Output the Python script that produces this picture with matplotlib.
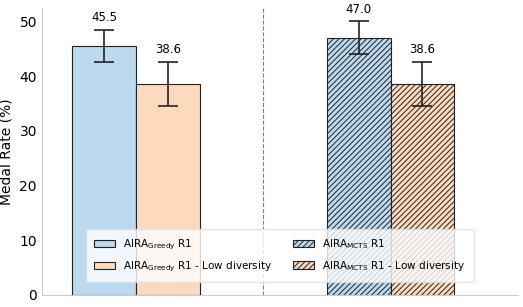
import matplotlib.pyplot as plt

# values
groups = ['Greedy', 'MCTS']
base = [45.5, 47.0]
base_err = [3.0, 3.0]
lowdiv = [38.6, 38.6]
lowdiv_err = [4.05, 4.05]
labels_base = [r'AIRA$_{\mathrm{Greedy}}$ R1', r'AIRA$_{\mathrm{MCTS}}$ R1']
labels_low = [r'AIRA$_{\mathrm{Greedy}}$ R1 - Low diversity', r'AIRA$_{\mathrm{MCTS}}$ R1 - Low diversity']

blue = '#BBD9EF'
orange = '#FDDABD'
w = 0.25

plt.rcParams['hatch.linewidth'] = 0.7

fig, ax = plt.subplots(figsize=(5.23, 3.07), dpi=100)

for i in range(len(groups)):
    hatch = '//////' if i == 1 else None
    ax.bar(i - w/2, base[i], w, yerr=base_err[i], color=blue, edgecolor='#222222',
           linewidth=0.8, hatch=hatch, label=labels_base[i],
           error_kw=dict(ecolor='#222222', capsize=7, elinewidth=1.2, capthick=1.2))
    ax.bar(i + w/2, lowdiv[i], w, yerr=lowdiv_err[i], color=orange, edgecolor='#222222',
           linewidth=0.8, hatch=hatch, label=labels_low[i],
           error_kw=dict(ecolor='#222222', capsize=7, elinewidth=1.2, capthick=1.2))
    ax.text(i - w/2, base[i] + base_err[i] + 1.0, f'{base[i]:.1f}', ha='center', va='bottom', fontsize=8.5)
    ax.text(i + w/2, lowdiv[i] + lowdiv_err[i] + 1.0, f'{lowdiv[i]:.1f}', ha='center', va='bottom', fontsize=8.5)

ax.axvline(0.5, color='gray', linestyle='--', linewidth=0.8)

ax.set_xlim(-0.37, 1.5)
ax.set_ylim(0, 52.5)
ax.set_xticks([])
ax.set_ylabel('Medal Rate (%)', fontsize=10)
ax.tick_params(axis='y', labelsize=10, length=0)
for s in ['top', 'right']:
    ax.spines[s].set_visible(False)
for s in ['left', 'bottom']:
    ax.spines[s].set_color('#cccccc')

ax.legend(ncol=2, loc='lower center', bbox_to_anchor=(0.5, 0.025), fontsize=7.5,
          framealpha=0.8, edgecolor='#dddddd', handlelength=2.0, handleheight=0.7,
          columnspacing=2.0, borderpad=0.8, labelspacing=0.75)

plt.subplots_adjust(left=0.08, right=0.99, bottom=0.04, top=0.975)
plt.savefig('out.png', dpi=100)
